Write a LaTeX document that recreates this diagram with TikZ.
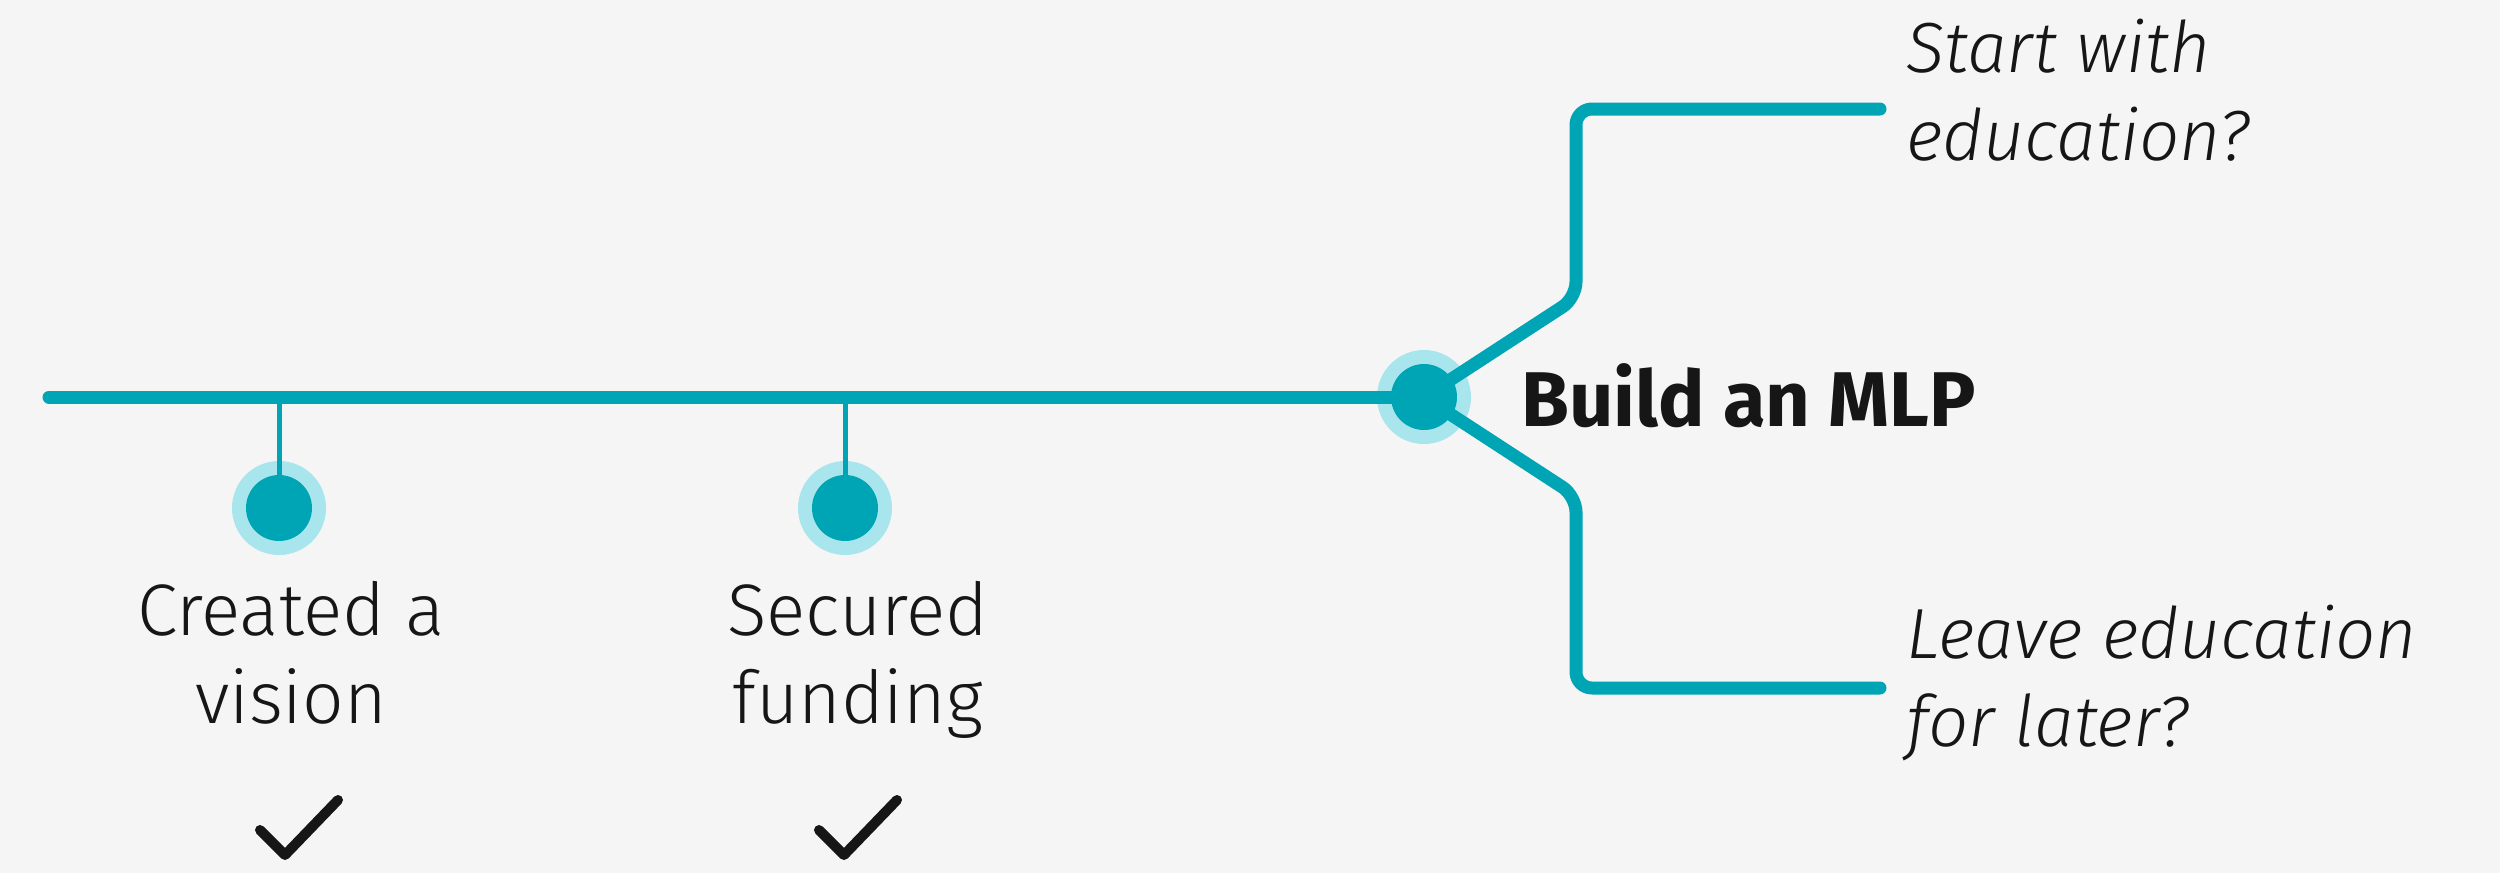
\documentclass[tikz,border=0pt]{standalone}
\usepackage{fontspec}
\newfontfamily\lightfont{Fira Sans Light}
\newfontfamily\lightit{Fira Sans Light Italic}
\newfontfamily\boldfont{Fira Sans Bold}
\definecolor{bgc}{HTML}{F5F5F5}
\definecolor{lineteal}{HTML}{00A5B5}
\definecolor{ringc}{HTML}{A9E5EC}
\definecolor{ink}{HTML}{161616}
\begin{document}
\begin{tikzpicture}[x=0.5pt,y=-0.5pt,
 track/.style={draw=lineteal,line width=6.5pt,line cap=round,line join=round},
 stem/.style={draw=lineteal,line width=2.5pt},
 halo/.style={circle,fill=ringc,minimum size=47pt,inner sep=0pt},
 dot/.style={circle,fill=lineteal,minimum size=33pt,inner sep=0pt},
 lbl/.style={text=ink,font=\lightfont\fontsize{36.5}{44}\selectfont,align=center,anchor=base,inner sep=0pt},
 qst/.style={text=ink,font=\lightit\fontsize{35.5}{44}\selectfont,align=left,anchor=base west,inner sep=0pt},
 boldtxt/.style={text=ink,font=\boldfont\fontsize{38.8}{44}\selectfont,anchor=base west,inner sep=0pt},
 tick/.style={draw=ink,line width=5pt,line cap=round,line join=round}
]
\fill[bgc] (0,0) rectangle (2500,873);
\useasboundingbox (0,0) rectangle (2500,873);
% halos
\node[halo] (hubhalo) at (1424,397) {};
\node[halo] (h1) at (279,508) {};
\node[halo] (h2) at (845,508) {};
% coordinates
\coordinate (start) at (49,397);
\coordinate (s1) at (279,397);
\coordinate (s2) at (845,397);
\coordinate (q1end) at (1880,109);
\coordinate (q2end) at (1880,688);
% connectors
\draw[stem] (s1) -- (h1.center);
\draw[stem] (s2) -- (h2.center);
\draw[track] (start) -- (hubhalo.center);
\draw[track,rounded corners=8pt] (hubhalo.center) -- (1576,298) -- (1576,109) -- (q1end);
\draw[track,rounded corners=8pt] (hubhalo.center) -- (1576,496) -- (1576,688) -- (q2end);
% dots
\node[dot] (hub) at (hubhalo.center) {};
\node[dot] (d1) at (h1.center) {};
\node[dot] (d2) at (h2.center) {};
% texts (base anchor = baseline of last line)
\node[boldtxt] (mlp) at (1521,426) {Build an MLP};
\node[lbl] (t1) at (291,723) {Created a\\vision};
\node[lbl] (t2) at (858,723) {Secured\\funding};
\node[qst] (q1) at (1906,160) {Start with\\education?};
\node[qst] (q2) at (1906,746) {Leave education\\for later?};
% ticks
\draw[tick] (260,830) -- (285,855) -- (338,800);
\draw[tick] (819,830) -- (844,855) -- (897,800);
\end{tikzpicture}
\end{document}
